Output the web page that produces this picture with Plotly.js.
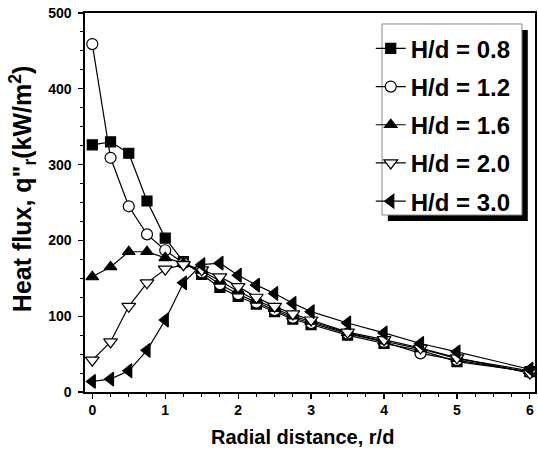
<!DOCTYPE html>
<html>
<head>
<meta charset="utf-8">
<script src="https://cdn.plot.ly/plotly-3.0.1.min.js"></script>
<style>html,body{margin:0;padding:0;background:#fff;}#chart{width:538px;height:451px;}</style>
</head>
<body>
<div id="chart"></div>
<script>
const rd = [0, 0.25, 0.5, 0.75, 1, 1.25, 1.5, 1.75, 2, 2.25, 2.5, 2.75, 3, 3.5, 4, 4.5, 5, 6];
const hd08 = [326, 330, 315, 252, 203, 172, 155, 138, 126, 116, 106, 96, 89, 75, 64, 55, 40, 27];
const hd12 = [459, 309, 245, 208, 187, 170, 158, 142, 129, 118, 108, 98, 91, 77, 66, 51, 42, 26];
const hd16 = [152, 165, 185, 185, 177, 170, 160, 146, 133, 121, 110, 100, 93, 78, 67, 57, 44, 28];
const hd20 = [42, 66, 113, 144, 162, 168, 161, 152, 139, 125, 113, 103, 95, 79, 69, 58, 45, 25];
const hd30 = [14, 17, 28, 55, 95, 144, 168, 170, 154, 141, 130, 117, 106, 91, 78, 64, 53, 30];
const names = ['H/d = 0.8', 'H/d = 1.2', 'H/d = 1.6', 'H/d = 2.0', 'H/d = 3.0'];
const series = [hd08, hd12, hd16, hd20, hd30];
const symbols = ['square', 'circle', 'triangle-up', 'triangle-down', 'triangle-left'];
const fills = ['#000', '#fff', '#000', '#fff', '#000'];
const sizes = [10, 11, 11, 12, 12];

const traces = series.map((s, i) => ({
  x: rd, y: s, name: names[i], type: 'scatter', mode: 'lines+markers',
  legendgroup: 'g' + i,
  line: {color: '#000', width: 1.2},
  marker: {symbol: symbols[i], size: sizes[i], color: fills[i], line: {color: '#000', width: 1.2}},
  cliponaxis: false
}));

const fontFam = '"Liberation Sans", Arial, sans-serif';
const layout = {
  width: 538, height: 451,
  margin: {l: 85, r: 3, t: 13, b: 59},
  paper_bgcolor: '#fff', plot_bgcolor: '#fff',
  font: {family: fontFam, color: '#000'},
  showlegend: true,
  xaxis: {
    range: [-0.1, 6.07], dtick: 1, tick0: 0,
    showgrid: false, zeroline: false,
    showline: true, linecolor: '#000', linewidth: 1.6, mirror: true,
    ticks: 'outside', ticklen: 5, tickwidth: 1.2, tickcolor: '#000',
    minor: {dtick: 0.25, ticks: 'outside', ticklen: 3, tickwidth: 1, tickcolor: '#000'},
    tickfont: {size: 14, family: fontFam, weight: 'bold'}
  },
  yaxis: {
    range: [0, 500], dtick: 100, tick0: 0,
    showgrid: false, zeroline: false,
    showline: true, linecolor: '#000', linewidth: 1.6, mirror: true,
    ticks: 'outside', ticklen: 5, tickwidth: 1.2, tickcolor: '#000',
    minor: {dtick: 25, ticks: 'outside', ticklen: 3, tickwidth: 1, tickcolor: '#000'},
    tickfont: {size: 14, family: fontFam, weight: 'bold'},
    ticklabelstandoff: 4
  },
  annotations: [
    {text: '<b>Radial distance, r/d</b>', xref: 'paper', yref: 'paper', x: 0.484, y: -0.118,
     xanchor: 'center', yanchor: 'middle', showarrow: false, font: {size: 20, family: fontFam, color: '#000'}},
    {text: '<b>Heat flux, q"<sub>r</sub>(kW/m<sup>2</sup>)</b>', xref: 'paper', yref: 'paper', x: -0.138, y: 0.535,
     xanchor: 'center', yanchor: 'middle', textangle: -90, showarrow: false, font: {size: 25, family: fontFam, color: '#000'}}
  ],
  legend: {
    x: 0.635, y: 0.965, xanchor: 'left', yanchor: 'top',
    bgcolor: 'rgba(0,0,0,0)', borderwidth: 0,
    font: {size: 24, family: fontFam, weight: 'bold'},
    traceorder: 'grouped', tracegroupgap: 4
  },
  shapes: [
    {type: 'rect', xref: 'paper', yref: 'paper', x0: 0.673, x1: 0.984, y0: 0.451, y1: 0.955,
     fillcolor: '#000', line: {width: 0}, layer: 'above'},
    {type: 'rect', xref: 'paper', yref: 'paper', x0: 0.66, x1: 0.971, y0: 0.467, y1: 0.971,
     fillcolor: '#fff', line: {color: '#888', width: 1}, layer: 'above'}
  ]
};
Plotly.newPlot('chart', traces, layout, {staticPlot: true, displayModeBar: false});
</script>
</body>
</html>
